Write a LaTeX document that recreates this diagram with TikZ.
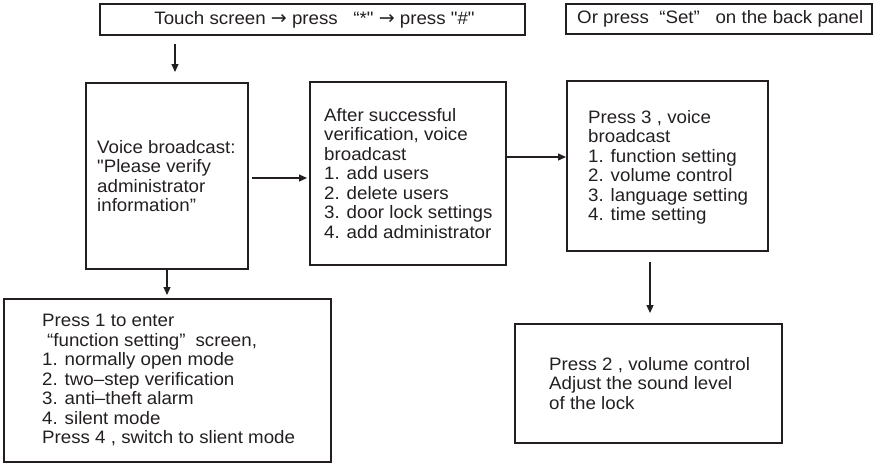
\documentclass[tikz,border=0pt]{standalone}
\usepackage{fontspec}
\setmainfont{Liberation Sans}[FakeStretch=1.04, Ligatures=TeXOff]
\newfontfamily\symf{DejaVu Sans}
\usetikzlibrary{arrows.meta}
\definecolor{ink}{HTML}{231F20}
\newcommand{\rarr}{{\symf\fontsize{19}{19}\selectfont →}}
\begin{document}
\begin{tikzpicture}[x=1pt,y=-1pt,
  box/.style={draw=ink, line width=1.2pt, inner sep=0pt, outer sep=0pt, anchor=north west},
  txt/.style={anchor=north west, inner sep=0pt, align=left, text=ink, font=\fontsize{18}{19.5}\selectfont},
  arr/.style={draw=ink, line width=1.2pt, -{Triangle[length=8pt,width=7pt]}}]
\useasboundingbox (0,0) rectangle (877,463);
% boxes
\node[box, minimum width=425pt, minimum height=31pt] (b0) at (100,4) {};
\node[box, minimum width=306pt, minimum height=30pt] (br) at (566,4) {};
\node[box, minimum width=162pt, minimum height=186pt] (b1) at (86,83) {};
\node[box, minimum width=196pt, minimum height=183pt] (b2) at (310,82) {};
\node[box, minimum width=201pt, minimum height=170pt] (b3) at (567,81) {};
\node[box, minimum width=327pt, minimum height=163pt] (b4) at (4,299) {};
\node[box, minimum width=267pt, minimum height=119pt] (b5) at (515,324) {};
% texts
\node[txt, anchor=center] (t0) at ([xshift=2pt]b0.center) {Touch screen \rarr{} press\ \ \ “*" \rarr{} press "\#"};
\node[txt, anchor=west] (tr) at (577,19) {Or press\ \ “Set”\ \ \ on the back panel};
\node[txt] (t1) at (97,140) {Voice broadcast:\\"Please verify\\administrator\\information”};
\node[txt] (t2) at (324,108) {After successful\\verification, voice\\broadcast\\1. add users\\2. delete users\\3. door lock settings\\4. add administrator};
\node[txt] (t3) at (588,110) {Press 3 , voice\\broadcast\\1. function setting\\2. volume control\\3. language setting\\4. time setting};
\node[txt] (t4) at (42,314) {Press 1 to enter\\\hspace{5pt}“function setting”\hspace{10pt}screen,\\1. normally open mode\\2. two–step verification\\3. anti–theft alarm\\4. silent mode\\Press 4 , switch to slient mode};
\node[txt] (t5) at (549,357) {Press 2 , volume control\\Adjust the sound level\\of the lock};
% connectors
\draw[arr, shorten <=9pt, shorten >=11pt] (b0.south -| 175,0) -- (b1.north -| 175,0);
\draw[arr, shorten <=4pt, shorten >=3pt] (b1.east |- 0,178) -- (b2.west |- 0,178);
\draw[arr, shorten >=1pt] (b2.east |- 0,157) -- (b3.west |- 0,157);
\draw[arr, shorten >=4pt] (b1.south -| 167,0) -- (b4.north -| 167,0);
\draw[arr, shorten <=11pt, shorten >=11pt] (b3.south -| 650,0) -- (b5.north -| 650,0);
\end{tikzpicture}
\end{document}
